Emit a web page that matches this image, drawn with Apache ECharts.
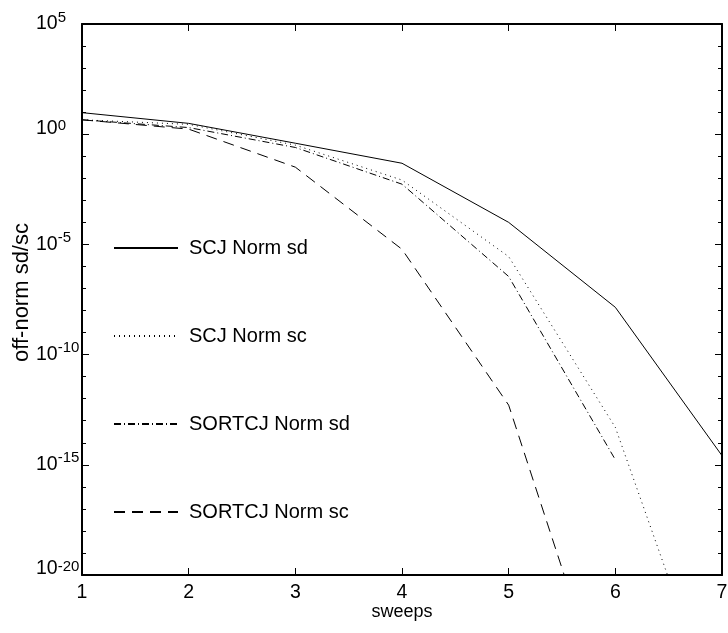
<!DOCTYPE html>
<html>
<head>
<meta charset="utf-8">
<script src="https://cdn.jsdelivr.net/npm/echarts@6/dist/echarts.min.js"></script>
<style>
html, body { margin: 0; padding: 0; background: #fff; }
#chart { width: 728px; height: 633px; }
</style>
</head>
<body>
<div id="chart"></div>
<script>
var sweeps = [1, 2, 3, 4, 5, 6, 7];
var names = ['SCJ Norm sd', 'SCJ Norm sc', 'SORTCJ Norm sd', 'SORTCJ Norm sc'];

// off-norm values
var scjSd = [9.5, 3.1, 0.39, 4.8e-2, 1.0e-4, 1.4e-8, 2.6e-15];
var scjSc = [4.5, 2.8, 0.32, 8.3e-3, 2.8e-6, 5.0e-14, 1.0e-27];
var sortSd = [4.5, 2.0, 0.25, 5.4e-3, 3.5e-7, 1.7e-15];
var sortSc = [4.5, 1.7, 3.2e-2, 6.0e-6, 5.1e-13, 8.0e-28];

// y tick labels are powers of ten
var yExpMin = -20, yExpMax = 5;
var yLabelStep = 5;
// these two labels sit a little higher in the original
var raisedExps = [0, -20];

var font = 'Liberation Sans';

var chart = echarts.init(document.getElementById('chart'));

function pairs(vals) {
    return vals.map(function (v, i) { return [sweeps[i], v]; });
}

function tickAxis(pos, step, len, frame) {
    return {
        type: 'value',
        position: pos,
        min: yExpMin,
        max: yExpMax,
        interval: step,
        axisLine: { show: frame, onZero: false, lineStyle: { color: '#000', width: 2 } },
        axisTick: { show: true, inside: true, length: len, lineStyle: { color: '#000', width: 1 } },
        axisLabel: { show: false },
        splitLine: { show: false }
    };
}

var leftMajor = tickAxis('left', yLabelStep, 7, true);
leftMajor.axisLabel = {
    show: true,
    align: 'left',
    margin: 46,
    formatter: function (v) {
        if (raisedExps.indexOf(v) >= 0) {
            return '{bt|10}{e|' + v + '}{s| }';
        }
        return '{b|10}{e|' + v + '}';
    },
    rich: {
        b: { fontSize: 19.5, fontFamily: font, color: '#000', lineHeight: 28, verticalAlign: 'middle' },
        bt: { fontSize: 19.5, fontFamily: font, color: '#000', lineHeight: 28, verticalAlign: 'top' },
        e: { fontSize: 15, fontFamily: font, color: '#000', lineHeight: 7, verticalAlign: 'top' },
        s: { fontSize: 1, lineHeight: 32 }
    }
};
leftMajor.name = 'off-norm sd/sc';
leftMajor.nameLocation = 'middle';
leftMajor.nameGap = 49;
leftMajor.nameMoveOverlap = false;
leftMajor.nameTextStyle = { fontSize: 22, fontFamily: font, color: '#000', padding: [0, 0, 0, 14] };

function xAxisAt(pos) {
    return {
        type: 'value',
        position: pos,
        min: 1,
        max: 7,
        interval: 1,
        axisLine: { onZero: false, lineStyle: { color: '#000', width: 2 } },
        axisTick: { show: true, inside: true, length: 7, lineStyle: { color: '#000', width: 1 } },
        axisLabel: { show: false },
        splitLine: { show: false }
    };
}

var xBottom = xAxisAt('bottom');
xBottom.name = 'sweeps';
xBottom.nameLocation = 'middle';
xBottom.nameGap = 28;
xBottom.nameMoveOverlap = false;
xBottom.nameTextStyle = { fontSize: 18, fontFamily: font, color: '#000' };
xBottom.axisLabel = { show: true, fontSize: 19.5, fontFamily: font, color: '#000', margin: 8 };

var lineTypes = ['solid', [1, 4], [7, 3, 1, 3], [11, 7]];
var seriesData = [scjSd, scjSc, sortSd, sortSc];

option = {
    animation: false,
    backgroundColor: '#fff',
    grid: { left: 82, right: 6, top: 24, bottom: 58, outerBoundsMode: 'none' },
    legend: {
        orient: 'vertical',
        left: 113,
        top: 238,
        padding: 0,
        itemWidth: 64,
        itemHeight: 14,
        itemGap: 68,
        selectedMode: false,
        data: names,
        itemStyle: { opacity: 0 },
        textStyle: { fontSize: 20, fontFamily: font, color: '#000', lineHeight: 20, padding: [0, 0, 0, 6] }
    },
    xAxis: [xBottom, xAxisAt('top')],
    yAxis: [
        { type: 'log', logBase: 10, min: 1e-20, max: 1e5, show: false },
        leftMajor,
        tickAxis('left', 1, 4, false),
        tickAxis('right', yLabelStep, 7, true),
        tickAxis('right', 1, 4, false)
    ],
    series: names.map(function (n, i) {
        return {
            name: n,
            type: 'line',
            xAxisIndex: 0,
            yAxisIndex: 0,
            data: pairs(seriesData[i]),
            symbol: 'none',
            clip: true,
            lineStyle: { color: '#000', width: 1, type: lineTypes[i] },
            itemStyle: { color: '#000' }
        };
    })
};

chart.setOption(option);
</script>
</body>
</html>
